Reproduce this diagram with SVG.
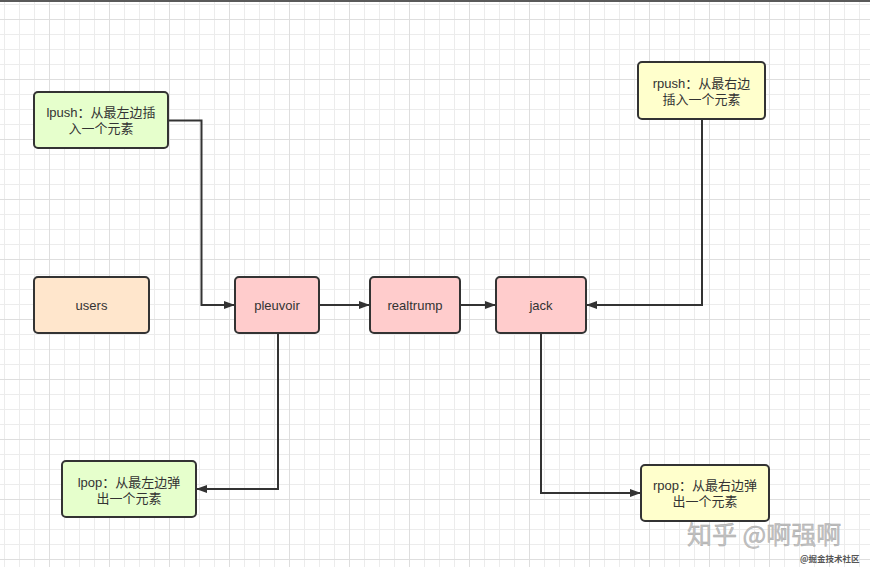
<svg xmlns="http://www.w3.org/2000/svg" width="870" height="567" viewBox="0 0 870 567">
<defs>
<pattern id="grid" patternUnits="userSpaceOnUse" x="0" y="0" width="60" height="60">
<path d="M4.5,0V60M19.5,0V60M34.5,0V60M0,4.5H60M0,34.5H60M0,49.5H60" stroke="#ececec" stroke-width="1" fill="none"/>
<path d="M49.5,0V60M0,19.5H60" stroke="#dedede" stroke-width="1" fill="none"/>
</pattern>
<marker id="arr" markerUnits="userSpaceOnUse" markerWidth="12" markerHeight="10" refX="11" refY="5" orient="auto">
<path d="M0,1 L11,5 L0,9 z" fill="#333"/>
</marker>
<style>
.box{stroke:#333;stroke-width:2}
.green{fill:#e6ffcc}
.yellow{fill:#ffffcc}
.pink{fill:#ffcccc}
.peach{fill:#ffe6cc}
.t{font-family:"Liberation Sans","Noto Sans CJK SC",sans-serif;font-size:13px;fill:#333;text-anchor:middle}
.edge{fill:none;stroke:#333;stroke-width:2;marker-end:url(#arr)}
.wm{font-family:"Noto Sans CJK SC",sans-serif;font-size:25px;fill:#c2c2c2;stroke:#a8a8a8;stroke-width:0.4}
.wm2{font-family:"Noto Sans CJK SC",sans-serif;font-size:8.5px;font-weight:bold;fill:#555}
</style>
</defs>
<rect width="870" height="567" fill="#fff"/>
<rect width="870" height="567" fill="url(#grid)"/>
<rect x="0" y="0" width="870" height="2" fill="#5a5a5a"/>

<g id="connectors">
<path class="edge" d="M168,120.5 H201.5 V305 H235"/>
<path class="edge" d="M319,305 H370"/>
<path class="edge" d="M460,305 H496"/>
<path class="edge" d="M702,119 V305 H586"/>
<path class="edge" d="M278,333 V489 H196"/>
<path class="edge" d="M541,333 V493 H641"/>
</g>

<g id="lpush">
<rect class="box green" x="34" y="92" width="134" height="56" rx="4"/>
<text class="t" x="101" y="116.5">lpush：从最左边插</text>
<text class="t" x="101" y="132.5">入一个元素</text>
</g>
<g id="rpush">
<rect class="box yellow" x="638" y="62" width="127" height="57" rx="4"/>
<text class="t" x="701.5" y="87.5">rpush：从最右边</text>
<text class="t" x="701.5" y="103.5">插入一个元素</text>
</g>
<g id="users">
<rect class="box peach" x="34" y="277" width="115" height="56" rx="4"/>
<text class="t" x="91.5" y="309.5">users</text>
</g>
<g id="pleuvoir">
<rect class="box pink" x="235" y="277" width="84" height="56" rx="4"/>
<text class="t" x="277" y="309.5">pleuvoir</text>
</g>
<g id="realtrump">
<rect class="box pink" x="370" y="277" width="90" height="56" rx="4"/>
<text class="t" x="415" y="309.5">realtrump</text>
</g>
<g id="jack">
<rect class="box pink" x="496" y="277" width="90" height="56" rx="4"/>
<text class="t" x="541" y="309.5">jack</text>
</g>
<g id="lpop">
<rect class="box green" x="62" y="461" width="134" height="56" rx="4"/>
<text class="t" x="129" y="486.5">lpop：从最左边弹</text>
<text class="t" x="129" y="502.5">出一个元素</text>
</g>
<g id="rpop">
<rect class="box yellow" x="641" y="465" width="128" height="56" rx="4"/>
<text class="t" x="705" y="490">rpop：从最右边弹</text>
<text class="t" x="705" y="506">出一个元素</text>
</g>

<g id="watermark">
<text class="wm" x="687" y="544">知乎 @啊强啊</text>
<text class="wm2" x="800" y="562">@掘金技术社区</text>
</g>
</svg>
